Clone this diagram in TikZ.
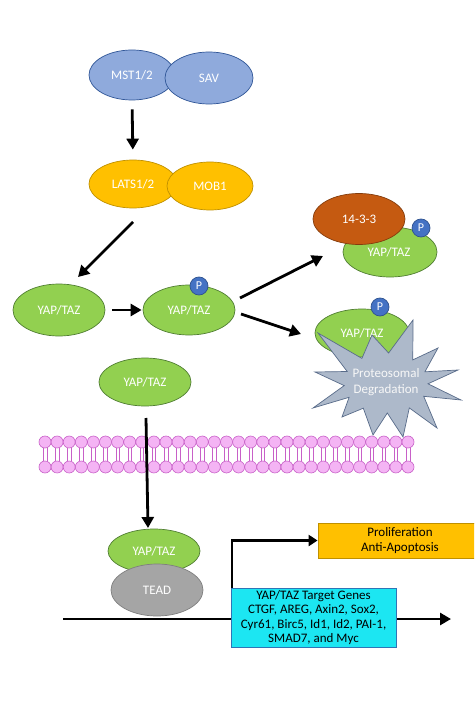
\documentclass[tikz,border=0pt]{standalone}
\usepackage{fontspec}
\setmainfont{Carlito}
\usetikzlibrary{shapes.geometric,arrows.meta}
\definecolor{mstblue}{HTML}{8FAADC}
\definecolor{mstedge}{HTML}{2F5597}
\definecolor{latsor}{HTML}{FFC000}
\definecolor{latsedge}{HTML}{BF9000}
\definecolor{yapgreen}{HTML}{92D050}
\definecolor{yapedge}{HTML}{507E32}
\definecolor{pblue}{HTML}{4472C4}
\definecolor{pedge}{HTML}{2F528F}
\definecolor{brownk}{HTML}{C55A11}
\definecolor{brownedge}{HTML}{843C0C}
\definecolor{teadgrey}{HTML}{A5A5A5}
\definecolor{teadedge}{HTML}{7F7F7F}
\definecolor{starfill}{HTML}{ADB9CA}
\definecolor{staredge}{HTML}{596C8A}
\definecolor{genecyan}{HTML}{1CE6F2}
\definecolor{geneedge}{HTML}{2E75B6}
\definecolor{lipfill}{HTML}{F4B4F4}
\definecolor{lipedge}{HTML}{C860C8}
\begin{document}
\begin{tikzpicture}[x=1pt,y=-1pt,
  blob/.style={ellipse,draw,line width=0.7pt,inner sep=0pt,text=white,font=\fontsize{13}{15}\selectfont},
  mstc/.style={blob,fill=mstblue,draw=mstedge},
  latsc/.style={blob,fill=latsor,draw=latsedge},
  yapc/.style={blob,fill=yapgreen,draw=yapedge},
  brownc/.style={blob,fill=brownk,draw=brownedge},
  teadc/.style={blob,fill=teadgrey,draw=teadedge},
  pcirc/.style={circle,draw=pedge,fill=pblue,line width=0.7pt,inner sep=0pt,minimum size=18pt,text=white,font=\fontsize{12}{14}\selectfont},
  arr/.style={line width=2.8pt,-{Triangle[length=11pt,width=12pt]}},
  boxc/.style={rectangle,draw,line width=0.8pt,inner sep=0pt,align=center,text=black,font=\fontsize{13}{14.6}\selectfont},
]
\useasboundingbox (0,0) rectangle (474,711);
\clip (0,0) rectangle (474,711);
\fill[white] (0,0) rectangle (474,711);

% top complexes
\node[mstc,minimum width=86pt,minimum height=50pt] (mst) at (132,75) {MST1/2};
\node[mstc,minimum width=88pt,minimum height=52pt] (sav) at (209,78) {SAV};
\node[latsc,minimum width=88pt,minimum height=48pt] (lats) at (133,184) {LATS1/2};
\node[latsc,minimum width=86pt,minimum height=48pt] (mob) at (210,186) {MOB1};

% YAP/TAZ row
\node[yapc,minimum width=92pt,minimum height=52pt] (yap1) at (59,310) {YAP/TAZ};
\node[yapc,minimum width=92pt,minimum height=50pt] (yap2) at (189,310) {YAP/TAZ};
\node[pcirc] (p2) at (199,286) {P};

% 14-3-3 complex
\node[yapc,minimum width=94pt,minimum height=50pt,text depth=0pt] (yapu) at (390,252) {\raisebox{0pt}{\hspace{-2pt}YAP/TAZ}};
\node[brownc,minimum width=92pt,minimum height=51pt] (b1433) at (359,219) {14-3-3};
\node[pcirc] (pu) at (421,228) {P};

% degradation
\node[yapc,minimum width=94pt,minimum height=48pt] (yapd) at (362,333) {YAP/TAZ};
\node[pcirc] (pd) at (380,307) {P};
\filldraw[fill=starfill,draw=staredge,line width=0.7pt]
  (372,335) -- (388.6,353) -- (413,320) -- (412.8,359.9) -- (438,348) -- (424.9,371.8)
  -- (458,370) -- (428,383.8) -- (461,400) -- (423.7,396.3) -- (437,428) -- (409.3,407.9)
  -- (403,437) -- (387.3,413) -- (373,435) -- (363.3,408.2) -- (342,417) -- (349.1,397.3)
  -- (313,408) -- (344.2,385.6) -- (315,372) -- (347.2,371.5) -- (318,333) -- (361.9,358.4) -- cycle;
\node[align=center,text=white!94!gray,font=\fontsize{13}{16}\selectfont] (deg) at (386,382) {Proteosomal\\Degradation};

% middle YAP/TAZ
\node[yapc,minimum width=92pt,minimum height=48pt] (yap3) at (145,382) {YAP/TAZ};

% membrane
\foreach \i in {0,...,30} {
  \draw[lipedge,line width=0.6pt] (45+12.1*\i-1.8,448) -- (45+12.1*\i-1.8,461);
  \draw[lipedge,line width=0.6pt] (45+12.1*\i+1.8,448) -- (45+12.1*\i+1.8,461);
}
\foreach \i in {0,...,30} {
  \filldraw[fill=lipfill,draw=lipedge,line width=0.6pt] (45+12.1*\i,442) circle (6pt);
  \filldraw[fill=lipfill,draw=lipedge,line width=0.6pt] (45+12.1*\i,467) circle (6pt);
}

% nucleus complex
\node[yapc,minimum width=92pt,minimum height=44pt] (yap4) at (154,551) {YAP/TAZ};
\node[teadc,minimum width=92pt,minimum height=52pt] (tead) at (157,590) {TEAD};

% coordinates for arrow ends
\coordinate (a2s) at (133,222);
\coordinate (a2e) at (78,277);
\coordinate (u1s) at (240,298);
\coordinate (u1e) at (323,256);
\coordinate (d1s) at (241,314);
\coordinate (d1e) at (301,334);
\coordinate (v1s) at (146,418);
\coordinate (v1e) at (148,528);
\coordinate (dnaL) at (63,619);
\coordinate (dnaR) at (451,619);

% arrows
\draw[arr,shorten <=9pt,shorten >=10pt] (mst.south) -- (lats.north);
\draw[arr] (a2s) -- (a2e);
\draw[arr,shorten <=7pt,shorten >=1pt] (yap1.east) -- (yap2.west);
\draw[arr] (u1s) -- (u1e);
\draw[arr] (d1s) -- (d1e);
\draw[arr] (v1s) -- (v1e);
\draw[arr] (dnaL) -- (dnaR);

% boxes
\node[boxc,fill=genecyan,draw=geneedge,minimum width=165pt,minimum height=59pt] (genes) at (313.5,617.5)
  {YAP/TAZ Target Genes\\CTGF, AREG, Axin2, Sox2,\\Cyr61, Birc5, Id1, Id2, PAI-1,\\SMAD7, and Myc};
\node[boxc,fill=latsor,draw=latsedge,minimum width=164pt,minimum height=35pt] (prolif) at (400,540.5)
  {Proliferation\\Anti-Apoptosis};
\draw[line width=2.6pt,-{Triangle[length=9pt,width=11pt]}] ([xshift=1.5pt]genes.north west) |- (prolif.west);
\end{tikzpicture}
\end{document}
